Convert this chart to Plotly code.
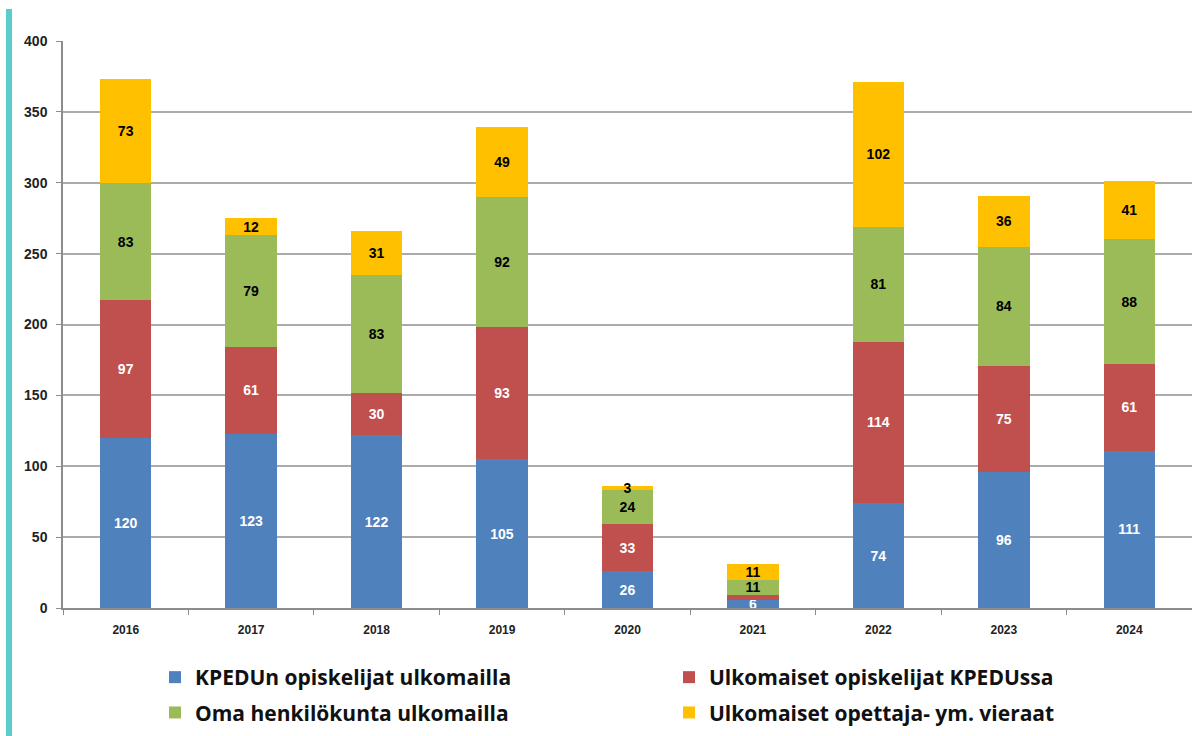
import plotly.graph_objects as go

years = ["2016", "2017", "2018", "2019", "2020", "2021", "2022", "2023", "2024"]
kpedun_ulkomailla = [120, 123, 122, 105, 26, 6, 74, 96, 111]
ulkomaiset_opiskelijat = [97, 61, 30, 93, 33, 3, 114, 75, 61]
oma_henkilokunta = [83, 79, 83, 92, 24, 11, 81, 84, 88]
ulkomaiset_vieraat = [73, 12, 31, 49, 3, 11, 102, 36, 41]

series = [
    ("KPEDUn opiskelijat ulkomailla", kpedun_ulkomailla, "#4F81BD", "white", "legend", "g1", 0),
    ("Ulkomaiset opiskelijat KPEDUssa", ulkomaiset_opiskelijat, "#C0504D", "white", "legend2", "g2", 6),
    ("Oma henkilökunta ulkomailla", oma_henkilokunta, "#9BBB59", "black", "legend", "g3", 0),
    ("Ulkomaiset opettaja- ym. vieraat", ulkomaiset_vieraat, "#FFC000", "black", "legend2", "g4", 0),
]

fig = go.Figure()
for name, vals, color, tcolor, leg, grp, minlabel in series:
    texts = [str(v) if v >= minlabel else "" for v in vals]
    fig.add_trace(go.Bar(
        x=years, y=vals, name=name, marker=dict(color=color, line=dict(width=0)),
        text=texts, textposition="inside", insidetextanchor="middle", textangle=0,
        constraintext="none", cliponaxis=False,
        textfont=dict(family="Liberation Sans", size=14, color=tcolor, weight="bold"),
        legend=leg, legendgroup=grp, hoverinfo="skip",
    ))

W, H = 1192, 736
L, R, T, B = 63, 0, 41, 128
pw = W - L - R

def px_to_paper_x(px):
    return (px - L) / pw

def px_to_paper_y(py):
    return (H - B - py) / (H - T - B)

legend_common = dict(
    orientation="v", bgcolor="rgba(0,0,0,0)",
    font=dict(family="Open Sans", size=21, color="#111111", weight="bold"),
    tracegroupgap=5, xanchor="left", yanchor="top", itemclick=False,
)
fig.update_layout(
    width=W, height=H, barmode="stack", bargap=0.59,
    margin=dict(l=L, r=R, t=T, b=B),
    plot_bgcolor="white", paper_bgcolor="white",
    legend=dict(x=px_to_paper_x(155), y=px_to_paper_y(657), **legend_common),
    legend2=dict(x=px_to_paper_x(669), y=px_to_paper_y(657), **legend_common),
    xaxis=dict(
        type="category", tickson="boundaries", ticks="outside", ticklen=5,
        tickcolor="#8c8c8c", showline=True, linecolor="#8c8c8c", linewidth=1.5,
        tickfont=dict(family="Liberation Sans", size=12, color="#222222", weight="bold"),
        ticklabelstandoff=10,
        showgrid=False, range=[-0.5, 8.5],
    ),
    yaxis=dict(
        range=[0, 400], dtick=50, ticks="outside", ticklen=5, tickcolor="#8c8c8c",
        showline=True, linecolor="#8c8c8c", linewidth=1.5,
        gridcolor="#ababab", gridwidth=1.5,
        tickfont=dict(family="Liberation Sans", size=14, color="#222222", weight="bold"),
        ticklabelstandoff=6,
        zeroline=False,
    ),
    shapes=[dict(
        type="rect", xref="paper", yref="paper",
        x0=px_to_paper_x(6), x1=px_to_paper_x(12),
        y0=px_to_paper_y(736), y1=px_to_paper_y(9),
        fillcolor="#5BCBCB", line=dict(width=0), layer="above",
    )],
)

fig.write_html(
    "out.html",
    config={"displayModeBar": False},
    post_script="document.body.style.margin='0';document.body.style.overflow='hidden';",
)
